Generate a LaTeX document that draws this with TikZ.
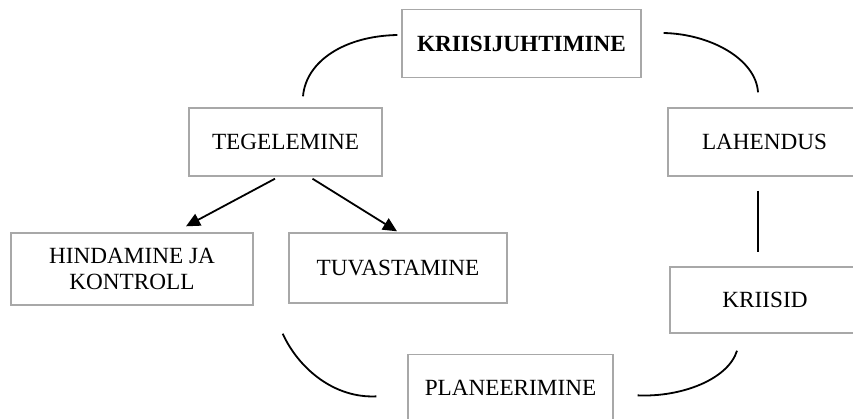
\documentclass[tikz,border=0pt]{standalone}
\usepackage{fontspec}
\setmainfont{Liberation Serif}
\usetikzlibrary{arrows.meta}
\definecolor{boxgray}{RGB}{168,168,168}
\tikzset{
  stagebox/.style={draw=boxgray, line width=1.4pt, fill=white, inner sep=0pt,
    align=center, font=\fontsize{23.2}{26.7}\selectfont},
  link/.style={draw=black, line width=1.8pt},
  arr/.style={link, -{Triangle[length=14pt,width=13pt]}}
}
\begin{document}
\begin{tikzpicture}[x=1pt,y=-1pt]
  \useasboundingbox (0,0) rectangle (853,418);
  \clip (0,0) rectangle (853,418);

  % stages of the crisis management cycle
  \node[stagebox, minimum width=239pt, minimum height=68pt] (kr) at (521.5,43.5)
    {\bfseries KRIISIJUHTIMINE};
  \node[stagebox, minimum width=193pt, minimum height=68pt] (teg) at (285.5,142) {TEGELEMINE};
  \node[stagebox, minimum width=193pt, minimum height=68pt] (lah) at (764.5,142) {LAHENDUS};
  \node[stagebox, minimum width=242pt, minimum height=72pt] (hin) at (132,269)
    {HINDAMINE JA\\KONTROLL};
  \node[stagebox, minimum width=218pt, minimum height=70pt] (tuv) at (398,268) {TUVASTAMINE};
  \node[stagebox, minimum width=190pt, minimum height=66pt] (kri) at (765,300) {KRIISID};
  \node[stagebox, minimum width=205pt, minimum height=74pt, anchor=north] (pla) at (510.5,354) {};
  \node[font=\fontsize{23.2}{26.7}\selectfont, inner sep=0pt] (plat) at (510.5,387.5) {PLANEERIMINE};

  % curved links around the cycle
  \draw[link] ([xshift=-4pt,yshift=8.5pt]kr.west)
    .. controls +(-53,1) and +(3,-35) .. ([xshift=17.5pt,yshift=11pt]teg.north);
  \draw[link] ([xshift=22pt,yshift=10.5pt]kr.east)
    .. controls +(47,1) and +(-2,-33) .. ([xshift=-6.5pt,yshift=15pt]lah.north);
  \draw[link] ([xshift=-6.5pt,yshift=-14pt]lah.south) -- ([xshift=-7pt,yshift=14pt]kri.north);
  \draw[link] ([xshift=-28pt,yshift=-17pt]kri.south)
    .. controls +(-9,29) and +(43,2) .. ([xshift=24pt]pla.east |- plat.south);
  \draw[link] ([xshift=29pt,yshift=-28pt]hin.south east)
    .. controls +(16,35) and +(-42,2) .. ([xshift=-31pt,yshift=-1pt]pla.west |- plat.south);

  % branches from TEGELEMINE
  \draw[arr] ([xshift=-10.5pt,yshift=-2pt]teg.south) -- ([xshift=54pt,yshift=6pt]hin.north);
  \draw[arr] ([xshift=27pt,yshift=-2pt]teg.south) -- ([xshift=-1pt,yshift=1pt]tuv.north);
\end{tikzpicture}
\end{document}
